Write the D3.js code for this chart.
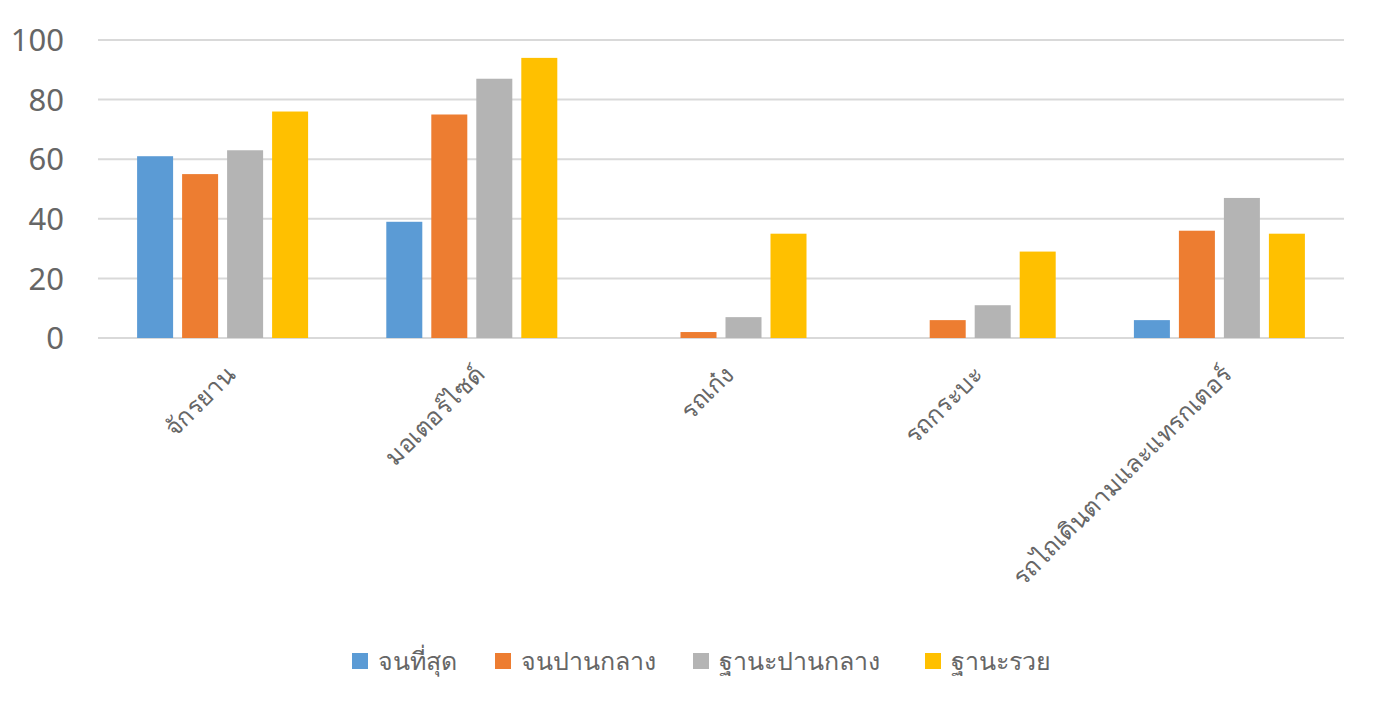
<!DOCTYPE html>
<html><head><meta charset="utf-8">
<script src="https://cdn.jsdelivr.net/npm/d3@7"></script>
<style>
body{margin:0;background:#fff;}
svg text{font-family:"Noto Sans","DejaVu Sans",sans-serif;}
</style></head><body>
<svg id="c" width="1383" height="714"></svg>
<script>
const categories = ["จักรยาน","มอเตอร์ไซด์","รถเก๋ง","รถกระบะ","รถไถเดินตามและแทรกเตอร์"];
const seriesNames = ["จนที่สุด","จนปานกลาง","ฐานะปานกลาง","ฐานะรวย"];
const poorest = [61,39,0,0,6];
const poorMid = [55,75,2,6,36];
const midClass = [63,87,7,11,47];
const rich = [76,94,35,29,35];
const yTicks = [0,20,40,60,80,100];
const colors = ["#5B9BD5","#ED7D31","#B4B4B4","#FFC000"];
const series = [poorest,poorMid,midClass,rich];

const svg = d3.select("#c");
const L=98,R=1344,T=40,B=338;
const x = d3.scaleBand().domain(categories).range([L,R]).paddingInner(0).paddingOuter(0);
const y = d3.scaleLinear().domain([0,100]).range([B,T]);
const bw = 36, gap = 9;

svg.append("g").selectAll("line").data(yTicks).join("line")
  .attr("x1",L).attr("x2",R).attr("y1",d=>y(d)).attr("y2",d=>y(d))
  .attr("stroke","#d9d9d9").attr("stroke-width",2);

svg.append("g").selectAll("text").data(yTicks).join("text")
  .attr("x",64).attr("y",d=>y(d)).attr("dy","0.36em").attr("text-anchor","end")
  .attr("font-size",31).attr("fill","#666").text(d=>d);

const groupW = 4*bw+3*gap;
series.forEach((s,si)=>{
  svg.append("g").selectAll("rect").data(categories).join("rect")
    .attr("x",(c)=>x(c)+x.bandwidth()/2-groupW/2+si*(bw+gap))
    .attr("width",bw)
    .attr("y",(c,i)=>y(s[i]))
    .attr("height",(c,i)=>y(0)-y(s[i]))
    .attr("fill",colors[si]);
});

svg.append("g").selectAll("text").data(categories).join("text")
  .attr("transform",c=>`translate(${x(c)+x.bandwidth()/2+8},${370}) rotate(-45)`)
  .attr("text-anchor","end").attr("dy","0.35em")
  .attr("font-size",24.5).attr("fill","#666").text(c=>c);

const legX = [352,495,693,925];
const lg = svg.append("g");
seriesNames.forEach((n,i)=>{
  lg.append("rect").attr("x",legX[i]).attr("y",653).attr("width",16).attr("height",16).attr("fill",colors[i]);
  lg.append("text").attr("x",legX[i]+26).attr("y",661).attr("dy","0.35em").attr("font-size",25).attr("fill","#666").text(n);
});
</script></body></html>
